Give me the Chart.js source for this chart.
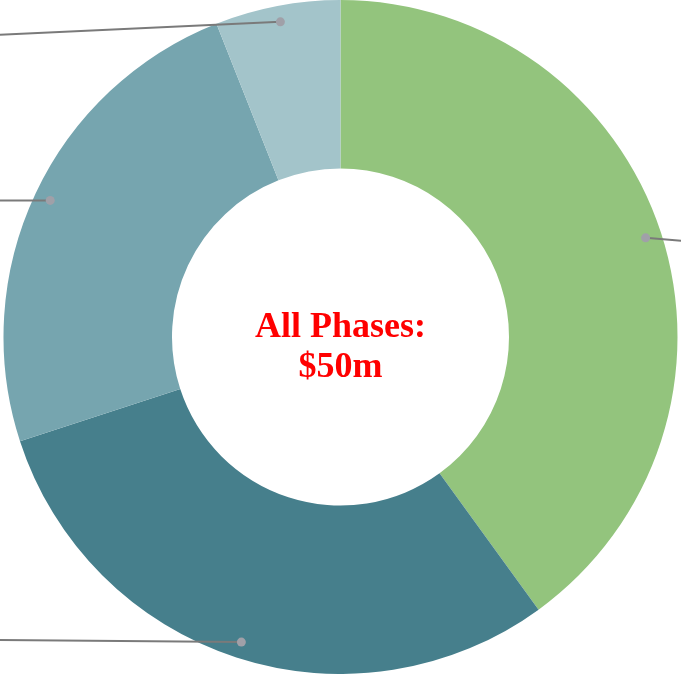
<!DOCTYPE html>
<html>
<head>
<meta charset="utf-8">
<script src="https://cdn.jsdelivr.net/npm/chart.js@4"></script>
<style>
  html, body { margin: 0; padding: 0; background: #ffffff; }
  #wrap { width: 681px; height: 674px; }
</style>
</head>
<body>
<div id="wrap"><canvas id="c" width="681" height="674"></canvas></div>
<script>
// Data (in $m): 40%, 30%, 24%, 6% of $50m
const categories = ["Phase 1", "Phase 2", "Phase 3", "Phase 4"];
const values = [20, 15, 12, 3];
const colors = ["#93C47D", "#467F8C", "#76A5AF", "#A3C4CA"];
const centerLines = ["All Phases:", "$50m"];
// leader line direction per slice: horizontal side and vertical drift at edge
const leaderSide = [1, -1, -1, -1];
const leaderDrift = [3, -2, 0, 13];

const leaderPlugin = {
  id: 'leaders',
  afterDatasetsDraw(chart) {
    const ctx = chart.ctx;
    const meta = chart.getDatasetMeta(0);
    meta.data.forEach((arc, i) => {
      const mid = (arc.startAngle + arc.endAngle) / 2;
      const r = arc.outerRadius * 0.952;
      const x = arc.x + Math.cos(mid) * r;
      const y = arc.y + Math.sin(mid) * r;
      const ex = leaderSide[i] > 0 ? chart.width : 0;
      const ey = y + leaderDrift[i];
      ctx.save();
      ctx.strokeStyle = '#7a7a7a';
      ctx.lineWidth = 2;
      ctx.beginPath();
      ctx.moveTo(x, y);
      ctx.lineTo(ex, ey);
      ctx.stroke();
      ctx.fillStyle = '#a0a0a8';
      ctx.beginPath();
      ctx.arc(x, y, 4.5, 0, Math.PI * 2);
      ctx.fill();
      ctx.restore();
    });
  },
  afterDraw(chart) {
    const ctx = chart.ctx;
    const meta = chart.getDatasetMeta(0);
    const arc = meta.data[0];
    ctx.save();
    ctx.fillStyle = '#ff0000';
    ctx.font = 'bold 36px "Liberation Serif", serif';
    ctx.textAlign = 'center';
    ctx.textBaseline = 'alphabetic';
    ctx.fillText(centerLines[0], arc.x, arc.y + 0);
    ctx.fillText(centerLines[1], arc.x, arc.y + 40);
    ctx.restore();
  }
};

new Chart(document.getElementById('c'), {
  type: 'doughnut',
  data: {
    labels: categories,
    datasets: [{
      data: values,
      backgroundColor: colors,
      borderWidth: 0
    }]
  },
  options: {
    responsive: false,
    animation: false,
    cutout: '50%',
    layout: { padding: 0 },
    plugins: {
      legend: { display: false },
      tooltip: { enabled: false }
    }
  },
  plugins: [leaderPlugin]
});
</script>
</body>
</html>
